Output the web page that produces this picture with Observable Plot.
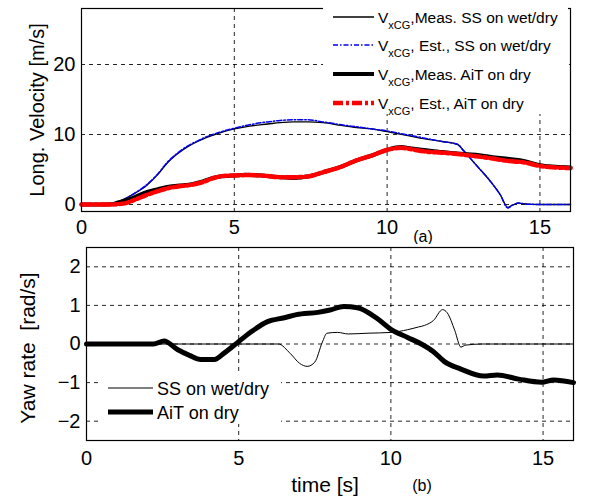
<!DOCTYPE html>
<html>
<head>
<meta charset="utf-8">
<script src="https://cdn.jsdelivr.net/npm/d3@7"></script>
<script src="https://cdn.jsdelivr.net/npm/@observablehq/plot@0.6"></script>
<style>
  html, body { margin: 0; padding: 0; background: #fff; }
  #chart svg { display: block; }
</style>
</head>
<body>
<div id="chart"></div>
<script>
// ---- Data ----
const xTicks = [0, 5, 10, 15];
const vTicks = [0, 10, 20];
const yawTicks = [-2, -1, 0, 1, 2];

// (a) Longitudinal velocity, sine-steer (SS) run on wet/dry
const tSs = [0, 0.5, 0.95, 1.3, 1.7, 2.15, 2.5, 2.8, 3.1, 3.45, 3.8, 4.1, 4.5, 5.0, 5.5, 6.1, 6.5, 6.95, 7.4, 7.9, 8.5, 9.0, 9.5, 10.0, 10.6, 11.2, 11.8, 12.3, 12.5, 12.9, 13.4, 13.7, 13.95, 14.1, 14.3, 14.6, 15.0, 15.5, 16];
const vSsMeas = [0, 0, 0.05, 0.6, 1.5, 2.8, 4.3, 5.9, 7.1, 8.2, 9.0, 9.6, 10.2, 10.8, 11.2, 11.5, 11.7, 11.8, 11.8, 11.7, 11.3, 11.0, 10.8, 10.4, 9.9, 9.4, 9.0, 8.6, 7.7, 5.7, 3.2, 1.4, -0.4, -0.1, 0.2, 0.05, 0, 0, 0];
const vSsEst = [0, 0, 0, 0.5, 1.5, 2.9, 4.4, 6.0, 7.2, 8.3, 9.1, 9.7, 10.3, 10.9, 11.4, 11.8, 12.0, 12.1, 12.1, 11.8, 11.4, 11.1, 10.8, 10.5, 10.0, 9.5, 9.0, 8.6, 7.7, 5.7, 3.2, 1.4, -0.5, -0.1, 0.2, 0.05, 0, 0, 0];

// (a) Longitudinal velocity, AiT run on dry
const tAit = [0, 0.5, 1.0, 1.2, 1.45, 1.7, 2.15, 2.5, 2.8, 3.2, 3.65, 4.0, 4.3, 4.6, 5.0, 5.4, 6.0, 6.5, 6.95, 7.4, 7.9, 8.5, 9.0, 9.5, 10.0, 10.45, 10.8, 11.2, 11.8, 12.3, 12.9, 13.4, 14.0, 14.5, 15.0, 15.5, 16];
const vAitMeas = [0, 0, 0.05, 0.3, 0.6, 1.0, 1.8, 2.2, 2.5, 2.7, 2.95, 3.35, 3.8, 4.05, 4.15, 4.25, 4.1, 3.9, 3.8, 4.0, 4.6, 5.4, 6.3, 7.0, 7.8, 8.2, 8.0, 7.8, 7.5, 7.3, 7.1, 6.8, 6.5, 6.2, 5.6, 5.4, 5.3];
const vAitEst = [0, 0, 0, 0.05, 0.2, 0.6, 1.4, 1.9, 2.3, 2.6, 2.85, 3.25, 3.75, 4.05, 4.15, 4.2, 4.1, 3.9, 3.9, 4.0, 4.6, 5.4, 6.3, 7.0, 7.8, 8.1, 7.9, 7.6, 7.4, 7.2, 6.9, 6.6, 6.2, 6.0, 5.5, 5.3, 5.2];

// (b) Yaw rate
const tYawSs = [0, 6.3, 6.7, 7.0, 7.25, 7.5, 7.75, 7.9, 8.25, 8.6, 9.25, 10.0, 10.55, 10.9, 11.1, 11.4, 11.7, 11.85, 12.1, 12.3, 12.45, 13, 16];
const yawSs = [0, 0, -0.25, -0.5, -0.58, -0.47, 0.05, 0.28, 0.3, 0.26, 0.28, 0.3, 0.37, 0.44, 0.48, 0.61, 0.89, 0.81, 0.35, -0.08, -0.03, 0, 0];
const tYawAit = [0, 1, 2.2, 2.55, 3.0, 3.4, 3.75, 4.2, 4.5, 4.95, 5.4, 5.95, 6.5, 6.9, 7.6, 8.0, 8.45, 8.9, 9.55, 10.0, 10.55, 11.0, 11.4, 11.75, 12.3, 13.05, 13.5, 14.2, 14.95, 15.35, 16];
const yawAit = [0, 0, 0, 0.08, -0.15, -0.3, -0.4, -0.4, -0.25, 0.03, 0.31, 0.58, 0.68, 0.76, 0.82, 0.88, 0.97, 0.94, 0.66, 0.38, 0.17, 0.0, -0.2, -0.45, -0.65, -0.83, -0.8, -0.91, -0.99, -0.93, -1.0];

const topLegend = [
  {rest: ",Meas. SS on wet/dry", color: "#000", width: 1.3, dash: null},
  {rest: ", Est., SS on wet/dry", color: "#0000ee", width: 1.5, dash: "5,2,1.5,2"},
  {rest: ",Meas. AiT on dry", color: "#000", width: 4, dash: null},
  {rest: ", Est., AiT on dry", color: "#ff0000", width: 4.5, dash: "10,3,3,3"}
];
const bottomLegend = [
  {label: "SS on wet/dry", width: 1, color: "#000"},
  {label: "AiT on dry", width: 5, color: "#000"}
];

// ---- Drawing ----
const FONT = "'Liberation Sans', Arial, Helvetica, sans-serif";
const gridStyle = {stroke: "#000", strokeOpacity: 0.85, strokeWidth: 1, strokeDasharray: "4,4"};
const style = {fontFamily: FONT, fontSize: "20px", color: "#000", background: "#fff"};

const topPlot = Plot.plot({
  width: 592, height: 244,
  marginLeft: 81, marginRight: 22, marginTop: 8, marginBottom: 33,
  style,
  x: {domain: [0, 16]},
  y: {domain: [-1, 28]},
  marks: [
    Plot.gridX(xTicks.slice(1), gridStyle),
    Plot.gridY(vTicks, gridStyle),
    Plot.axisX(xTicks, {tickSize: 0, tickPadding: 8, label: null, fontSize: 20}),
    Plot.axisY(vTicks, {tickSize: 0, tickPadding: 6, label: null, fontSize: 20}),
    Plot.line(tSs, {x: tSs, y: vSsMeas, stroke: "#000", strokeWidth: 1.3, curve: "monotone-x"}),
    Plot.line(tSs, {x: tSs, y: vSsEst, stroke: "#0000ee", strokeWidth: 1.5, strokeDasharray: "5,2,1.5,2", curve: "monotone-x"}),
    Plot.line(tAit, {x: tAit, y: vAitMeas, stroke: "#000", strokeWidth: 4, curve: "monotone-x"}),
    Plot.line(tAit, {x: tAit, y: vAitEst, stroke: "#ff0000", strokeWidth: 4.5, strokeDasharray: "10,3,3,3", curve: "monotone-x"}),
    Plot.frame({stroke: "#000", strokeWidth: 1.2})
  ]
});

const bottomPlot = Plot.plot({
  width: 592, height: 253,
  marginLeft: 86, marginRight: 19, marginTop: 3, marginBottom: 57,
  style,
  x: {domain: [0, 16]},
  y: {domain: [-2.5, 2.5]},
  marks: [
    Plot.gridX(xTicks.slice(1), gridStyle),
    Plot.gridY(yawTicks, gridStyle),
    Plot.axisX(xTicks, {tickSize: 0, tickPadding: 10, label: null, fontSize: 20}),
    Plot.axisY(yawTicks, {tickSize: 0, tickPadding: 6, label: null, fontSize: 20}),
    Plot.line(tYawSs, {x: tYawSs, y: yawSs, stroke: "#000", strokeWidth: 1, curve: "monotone-x"}),
    Plot.line(tYawAit, {x: tYawAit, y: yawAit, stroke: "#000", strokeWidth: 5, curve: "monotone-x"}),
    Plot.frame({stroke: "#000", strokeWidth: 1.2})
  ]
});

const root = document.getElementById("chart");
root.appendChild(topPlot);
root.appendChild(bottomPlot);

// ---- Labels & legends ----
const st = d3.select(topPlot);
st.append("text")
  .attr("transform", "translate(37,110) rotate(-90)")
  .attr("text-anchor", "middle").attr("dominant-baseline", "central")
  .attr("font-family", FONT).attr("font-size", 20).attr("fill", "#000")
  .text("Long. Velocity [m/s]");
st.append("text")
  .attr("x", 423).attr("y", 242)
  .attr("text-anchor", "middle")
  .attr("font-family", FONT).attr("font-size", 16).attr("fill", "#000")
  .text("(a)");

const lg = st.append("g");
lg.append("rect").attr("x", 323).attr("y", 0).attr("width", 245).attr("height", 114).attr("fill", "#fff");
const rowY = [17, 45, 74, 103];
topLegend.forEach((d, i) => {
  lg.append("line")
    .attr("x1", 333).attr("x2", 374).attr("y1", rowY[i]).attr("y2", rowY[i])
    .attr("stroke", d.color).attr("stroke-width", d.width)
    .attr("stroke-dasharray", d.dash);
  const t = lg.append("text")
    .attr("x", 378).attr("y", rowY[i] + 6)
    .attr("text-anchor", "start")
    .attr("font-family", FONT).attr("font-size", 15.5).attr("fill", "#000");
  t.append("tspan").text("V");
  t.append("tspan").attr("dy", 6).attr("font-size", 11).text("xCG");
  t.append("tspan").attr("dy", -6).text(d.rest);
});

const sb = d3.select(bottomPlot);
sb.append("text")
  .attr("transform", "translate(27,104) rotate(-90)")
  .attr("text-anchor", "middle").attr("dominant-baseline", "central")
  .attr("font-family", FONT).attr("font-size", 21).attr("fill", "#000")
  .text("Yaw rate  [rad/s]");
sb.append("text")
  .attr("x", 325).attr("y", 248)
  .attr("text-anchor", "middle")
  .attr("font-family", FONT).attr("font-size", 21).attr("fill", "#000")
  .text("time [s]");
sb.append("text")
  .attr("x", 422).attr("y", 247)
  .attr("text-anchor", "middle")
  .attr("font-family", FONT).attr("font-size", 16).attr("fill", "#000")
  .text("(b)");

const bl = sb.append("g");
bl.append("rect").attr("x", 100).attr("y", 128).attr("width", 181).attr("height", 52).attr("fill", "#fff");
const bRowY = [144, 168];
bottomLegend.forEach((d, i) => {
  bl.append("line")
    .attr("x1", 108).attr("x2", 153).attr("y1", bRowY[i]).attr("y2", bRowY[i])
    .attr("stroke", d.color).attr("stroke-width", d.width);
  bl.append("text")
    .attr("x", 157).attr("y", bRowY[i] + 6.5)
    .attr("text-anchor", "start")
    .attr("font-family", FONT).attr("font-size", 18).attr("fill", "#000")
    .text(d.label);
});
</script>
</body>
</html>
